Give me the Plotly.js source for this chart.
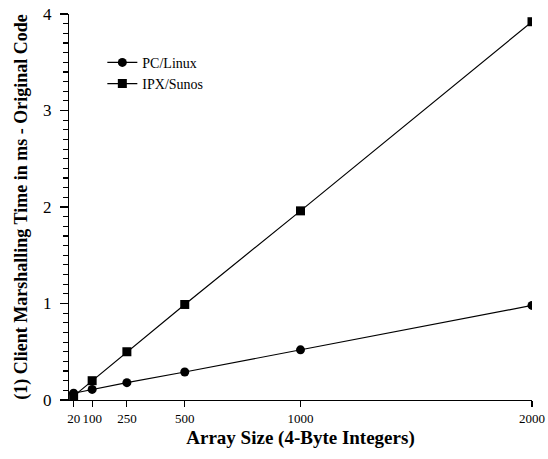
<!DOCTYPE html>
<html><head><meta charset="utf-8">
<script src="https://cdn.plot.ly/plotly-3.0.1.min.js"></script>
<style>html,body{margin:0;padding:0;background:#fff}</style>
</head><body><div id="chart" style="width:548px;height:459px"></div>
<script>
const arraySizes = [20, 100, 250, 500, 1000, 2000];
const pcLinux = [0.07, 0.11, 0.18, 0.29, 0.52, 0.98];
const ipxSunos = [0.04, 0.20, 0.50, 0.99, 1.96, 3.92];
const xTickVals = [20, 100, 250, 500, 1000, 2000];
const xTickText = ['20', '100', '250', '500', '1000', '2000'];
const yMajorTicks = [0, 1, 2, 3, 4];
const yMajorText = ['0', '1', '2', '3', '4'];

const font = '"Times New Roman", "Liberation Serif", serif';
const traces = [
  {x: arraySizes, y: pcLinux, name: 'PC/Linux', mode: 'lines+markers',
   line: {color: '#000', width: 1.2}, marker: {symbol: 'circle', size: 9, color: '#000'}},
  {x: arraySizes, y: ipxSunos, name: 'IPX/Sunos', mode: 'lines+markers',
   line: {color: '#000', width: 1.2}, marker: {symbol: 'square', size: 9, color: '#000'}}
];
const layout = {
  width: 548, height: 459,
  margin: {l: 69, r: 16, t: 14, b: 59},
  paper_bgcolor: '#fff', plot_bgcolor: '#fff',
  font: {family: font, color: '#000'},
  showlegend: true,
  legend: {x: 0.072, y: 0.915, xanchor: 'left', yanchor: 'top', bgcolor: 'rgba(0,0,0,0)',
           font: {size: 14, family: font}, tracegroupgap: 0},
  xaxis: {range: [0, 2000], tickvals: xTickVals, ticktext: xTickText, tickangle: 0,
          showgrid: false, zeroline: false, showline: true, linecolor: '#000', linewidth: 1.2,
          ticks: 'outside', ticklen: 6, tickcolor: '#000', tickwidth: 1.2,
          tickfont: {size: 13, family: font},
          title: {text: '<b>Array Size (4-Byte Integers)</b>', font: {size: 19, family: font}, standoff: 6}},
  yaxis: {range: [0, 4], tickmode: 'array', tickvals: yMajorTicks, ticktext: yMajorText,
          showgrid: false, zeroline: false, showline: true,
          linecolor: '#000', linewidth: 1.2, ticks: 'outside', ticklen: 8, tickcolor: '#000', tickwidth: 1.2,
          ticklabelstandoff: 5, tickfont: {size: 17, family: font},
          minor: {tickmode: 'linear', tick0: 0, dtick: 0.1, ticks: 'outside', ticklen: 5,
                  tickcolor: '#000', tickwidth: 1.2, showgrid: false},
          title: {text: '<b>(1) Client Marshalling Time in ms - Original Code</b>', font: {size: 18, family: font}, standoff: 10}}
};
Plotly.newPlot('chart', traces, layout, {displayModeBar: false, staticPlot: true});
</script></body></html>
